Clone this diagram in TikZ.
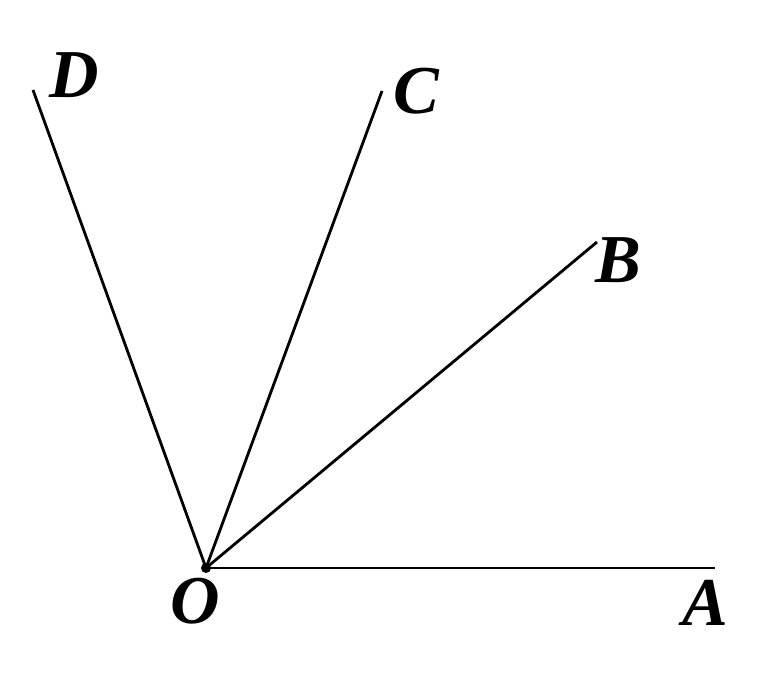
\documentclass[tikz,border=0pt]{standalone}
\usepackage{fontspec}
\setmainfont{Liberation Serif}[BoldFont={* Bold}, ItalicFont={* Italic}, BoldItalicFont={* Bold Italic}]
\usetikzlibrary{positioning}

\begin{document}
\begin{tikzpicture}[x=0.02cm, y=0.02cm, line width=1.6pt,
    lbl/.style={anchor=base, inner sep=0pt, font=\fontsize{39}{40}\selectfont\bfseries\itshape}]
    \useasboundingbox (0,0) rectangle (776,679);
    \coordinate (O) at (206,111);
    \coordinate (A) at (715,111);
    \coordinate (B) at (597,437);
    \coordinate (C) at (382,588);
    \coordinate (D) at (33,589);
    \foreach \p in {A, B, C, D}
      \draw (O) -- (\p);
    \fill (O) circle (5);
    \node[lbl] (lO) at (195,56)  {O};
    \node[lbl] (lA) at (705,54)  {A};
    \node[lbl] (lB) at (618,396) {B};
    \node[lbl] (lC) at (416,565) {C};
    \node[lbl] (lD) at (74,581)  {D};
  \end{tikzpicture}
\end{document}
